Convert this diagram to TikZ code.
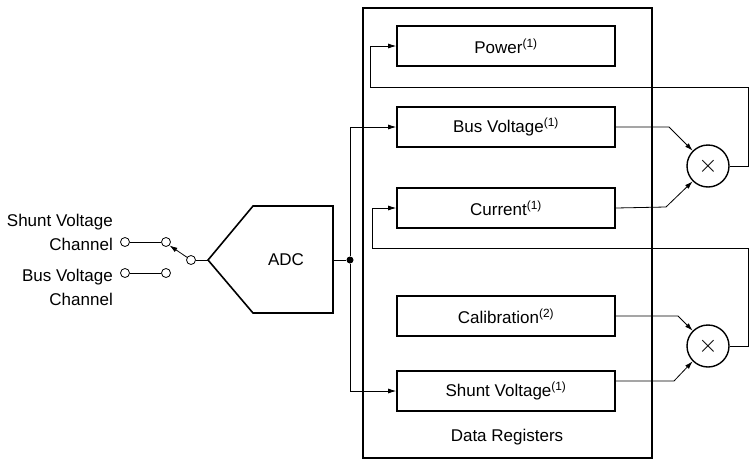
\documentclass[tikz,border=0pt]{standalone}
\usepackage{fontspec}
\setmainfont{Liberation Sans}
\usetikzlibrary{arrows.meta}
\begin{document}
\begin{tikzpicture}[x=1pt,y=-1pt,
 reg/.style={draw,line width=1.6pt,minimum width=218pt,minimum height=40pt,inner sep=0pt,font=\fontsize{17}{20}\selectfont},
 mul/.style={draw,circle,line width=1.4pt,minimum size=42pt,inner sep=0pt,font=\fontsize{24}{24}\selectfont},
 ln/.style={line width=0.8pt},
 arr/.style={ln,-{Latex[length=8pt,width=5pt]}},
 term/.style={draw,circle,minimum size=9pt,inner sep=0pt,line width=0.8pt},
 lbl/.style={font=\fontsize{17}{20}\selectfont,anchor=east,inner sep=0pt}]
\useasboundingbox (0,0) rectangle (756,464);
\draw[line width=1.8pt] (363,8) rectangle (652,458);
\node[font=\fontsize{17}{20}\selectfont] (dr) at (507,437) {Data Registers};
\node[reg] (pw) at (506,46) {Power\textsuperscript{(1)}};
\node[reg] (bv) at (506,127) {Bus Voltage\textsuperscript{(1)}};
\node[reg] (cu) at (506,208) {Current\textsuperscript{(1)}};
\node[reg] (ca) at (506,316) {Calibration\textsuperscript{(2)}};
\node[reg] (sv) at (506,391) {Shunt Voltage\textsuperscript{(1)}};
\node[mul] (m1) at (708,166) {$\times$};
\node[mul] (m2) at (708,346) {$\times$};
% multiplier inputs
\coordinate (b1) at (669,127); \coordinate (c1) at (666,207);
\coordinate (b2) at (678,316); \coordinate (c2) at (674,381);
\draw[arr] (bv.east) -- (b1) -- (m1.135);
\draw[arr] (cu.east) -- (c1) -- (m1.-135);
\draw[arr] (ca.east) -- (b2) -- (m2.135);
\draw[arr] (sv.east |- c2) -- (c2) -- (m2.-135);
% feedback
\coordinate (f1) at (748,87); \coordinate (g1) at (370,87);
\draw[arr] (m1.east) -- (m1.east -| f1) -- (f1) -- (g1) -- (g1 |- pw.west) -- (pw.west);
\coordinate (f2) at (748,248); \coordinate (g2) at (372,248);
\draw[arr] (m2.east) -- (m2.east -| f2) -- (f2) -- (g2) -- (g2 |- cu.west) -- (cu.west);
% ADC
\draw[line width=1.6pt] (208,260) -- (253,206) -- (333,206) -- (333,313) -- (253,313) -- cycle;
\node[font=\fontsize{17}{20}\selectfont] (adc) at (286,260) {ADC};
\coordinate (adcin) at (208,260); \coordinate (adcout) at (333,260);
\node[circle,fill,inner sep=0pt,minimum size=7pt] (dot) at (350,260) {};
\draw[ln] (adcout) -- (dot);
\draw[arr] (dot) -- (dot |- bv.west) -- (bv.west);
\draw[arr] (dot) -- (dot |- sv.west) -- (sv.west);
% switch
\node[term] (com) at (191,260) {};
\node[term] (t1) at (166,242) {};
\node[term] (t2) at (166,273) {};
\node[term] (s1) at (125,242) {};
\node[term] (s2) at (125,273) {};
\draw[ln] (com) -- (adcin);
\draw[ln] (s1) -- (t1); \draw[ln] (s2) -- (t2);
\draw[arr] (com) -- (t1.south east);
\node[lbl] (l1) at (113,222) {Shunt Voltage};
\node[lbl] (l2) at (113,244) {Channel};
\node[lbl] (l3) at (113,277) {Bus Voltage};
\node[lbl] (l4) at (113,299) {Channel};
\end{tikzpicture}
\end{document}
